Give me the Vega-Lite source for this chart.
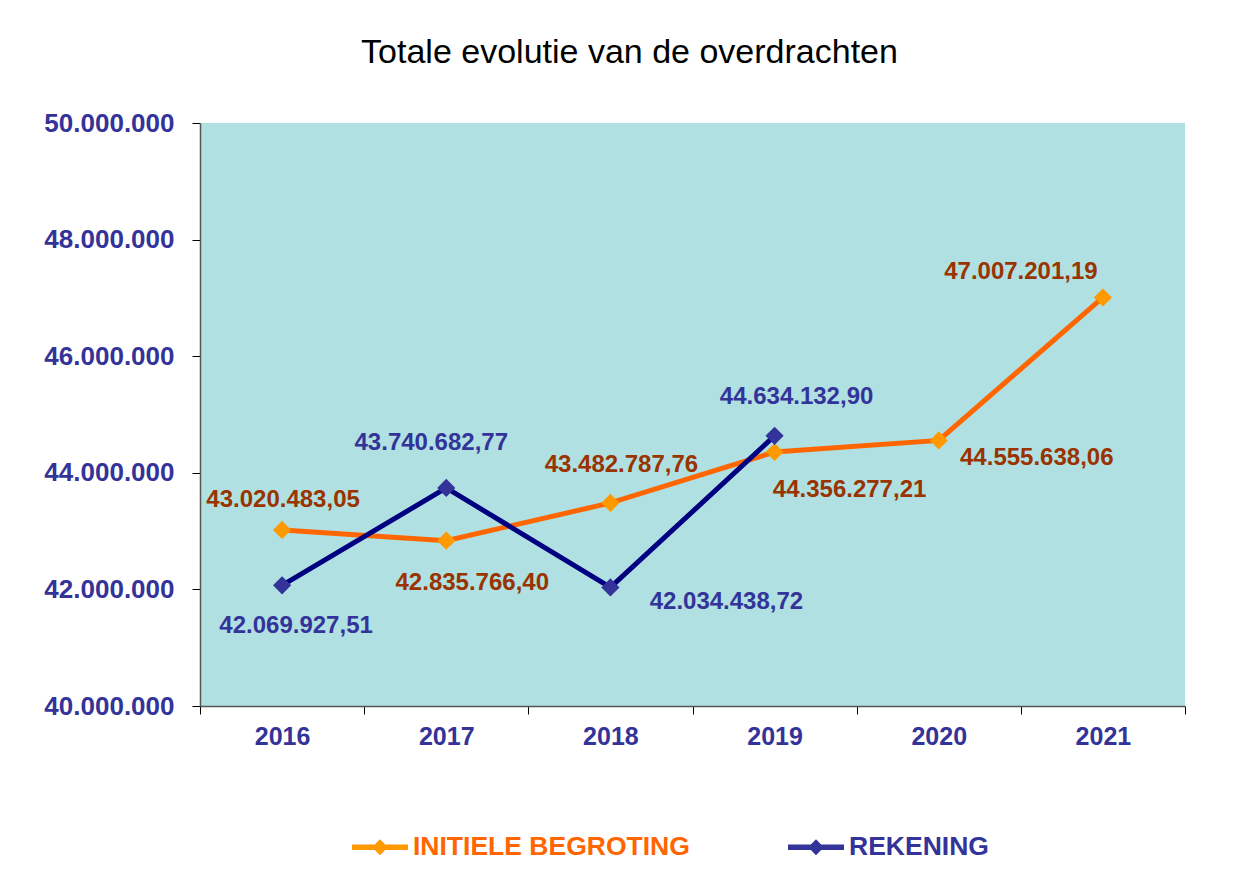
{
  "$schema": "https://vega.github.io/schema/vega-lite/v6.json",
  "width": 985,
  "height": 583,
  "autosize": {"type": "none"},
  "padding": {"left": 200, "top": 123, "right": 54, "bottom": 181},
  "background": "white",
  "title": {
    "text": "Totale evolutie van de overdrachten",
    "font": "Liberation Sans",
    "fontSize": 34,
    "fontWeight": "normal",
    "color": "#000000",
    "anchor": "middle",
    "baseline": "alphabetic",
    "offset": 13,
    "dx": -63
  },
  "config": {
    "locale": {"number": {"decimal": ",", "thousands": ".", "grouping": [3], "currency": ["€", ""]}},
    "view": {"fill": "#B0E0E1", "stroke": null},
    "font": "Liberation Sans"
  },
  "data": {
    "values": [
      {"year": "2016", "series": "INITIELE BEGROTING", "value": 43020483.05},
      {"year": "2017", "series": "INITIELE BEGROTING", "value": 42835766.40},
      {"year": "2018", "series": "INITIELE BEGROTING", "value": 43482787.76},
      {"year": "2019", "series": "INITIELE BEGROTING", "value": 44356277.21},
      {"year": "2020", "series": "INITIELE BEGROTING", "value": 44555638.06},
      {"year": "2021", "series": "INITIELE BEGROTING", "value": 47007201.19},
      {"year": "2016", "series": "REKENING", "value": 42069927.51},
      {"year": "2017", "series": "REKENING", "value": 43740682.77},
      {"year": "2018", "series": "REKENING", "value": 42034438.72},
      {"year": "2019", "series": "REKENING", "value": 44634132.90}
    ]
  },
  "encoding": {
    "x": {
      "field": "year",
      "type": "ordinal",
      "scale": {"type": "band", "paddingInner": 0, "paddingOuter": 0, "domain": ["2016", "2017", "2018", "2019", "2020", "2021"]},
      "axis": {
        "title": null,
        "labelAngle": 0,
        "tickBand": "extent",
        "tickSize": 8,
        "tickColor": "#000000",
        "domainColor": "#555555",
        "domainWidth": 1.5,
        "labelPadding": 10,
        "labelFont": "Liberation Sans",
        "labelFontSize": 25,
        "labelFontWeight": "bold",
        "labelColor": "#333399",
        "grid": false
      }
    },
    "y": {
      "field": "value",
      "type": "quantitative",
      "scale": {"domain": [40000000, 50000000], "nice": false, "zero": false},
      "axis": {
        "title": null,
        "values": [40000000, 42000000, 44000000, 46000000, 48000000, 50000000],
        "format": ",.0f",
        "tickSize": 8,
        "tickColor": "#000000",
        "domainColor": "#555555",
        "domainWidth": 1.5,
        "labelPadding": 18,
        "labelFont": "Liberation Sans",
        "labelFontSize": 26,
        "labelFontWeight": "bold",
        "labelColor": "#333399",
        "grid": false
      }
    }
  },
  "layer": [
    {
      "mark": {"type": "line", "strokeWidth": 5},
      "encoding": {
        "color": {
          "field": "series",
          "type": "nominal",
          "scale": {"domain": ["INITIELE BEGROTING", "REKENING"], "range": ["#FF6600", "#000080"]},
          "legend": null
        }
      }
    },
    {
      "mark": {"type": "point", "shape": "diamond", "size": 330, "filled": true, "opacity": 1},
      "encoding": {
        "color": {
          "field": "series",
          "type": "nominal",
          "scale": {"domain": ["INITIELE BEGROTING", "REKENING"], "range": ["#FF9900", "#333399"]},
          "legend": {
            "title": null,
            "orient": "none",
            "legendX": 152,
            "legendY": 696,
            "direction": "horizontal",
            "padding": 0,
            "columnPadding": 98,
            "labelOffset": 5,
            "symbolType": "M-1,-0.1L1,-0.1L1,0.1L-1,0.1Z M-0.28,0L0,-0.29L0.28,0L0,0.29Z",
            "symbolSize": 3136,
            "symbolStrokeWidth": 0,
            "symbolOpacity": 1,
            "labelFont": "Liberation Sans",
            "labelFontSize": 26.5,
            "labelFontWeight": "bold",
            "labelColor": "#FF6600",
            "labelLimit": 400,
            "encoding": {
              "labels": {
                "fill": {"condition": {"test": "datum.value === 'REKENING'", "value": "#333399"}, "value": "#FF6600"}
              }
            }
          }
        }
      }
    },
    {
      "transform": [{"filter": "datum.series === 'INITIELE BEGROTING' && datum.year === '2016'"}],
      "mark": {"type": "text", "dx": 1, "dy": -30, "fontSize": 24, "fontWeight": "bold", "font": "Liberation Sans", "color": "#993300", "baseline": "middle", "align": "center"},
      "encoding": {"text": {"field": "value", "type": "quantitative", "format": ",.2f"}}
    },
    {
      "transform": [{"filter": "datum.series === 'INITIELE BEGROTING' && datum.year === '2017'"}],
      "mark": {"type": "text", "dx": 26, "dy": 42, "fontSize": 24, "fontWeight": "bold", "font": "Liberation Sans", "color": "#993300", "baseline": "middle", "align": "center"},
      "encoding": {"text": {"field": "value", "type": "quantitative", "format": ",.2f"}}
    },
    {
      "transform": [{"filter": "datum.series === 'INITIELE BEGROTING' && datum.year === '2018'"}],
      "mark": {"type": "text", "dx": 11, "dy": -38, "fontSize": 24, "fontWeight": "bold", "font": "Liberation Sans", "color": "#993300", "baseline": "middle", "align": "center"},
      "encoding": {"text": {"field": "value", "type": "quantitative", "format": ",.2f"}}
    },
    {
      "transform": [{"filter": "datum.series === 'INITIELE BEGROTING' && datum.year === '2019'"}],
      "mark": {"type": "text", "dx": 75, "dy": 38, "fontSize": 24, "fontWeight": "bold", "font": "Liberation Sans", "color": "#993300", "baseline": "middle", "align": "center"},
      "encoding": {"text": {"field": "value", "type": "quantitative", "format": ",.2f"}}
    },
    {
      "transform": [{"filter": "datum.series === 'INITIELE BEGROTING' && datum.year === '2020'"}],
      "mark": {"type": "text", "dx": 98, "dy": 18, "fontSize": 24, "fontWeight": "bold", "font": "Liberation Sans", "color": "#993300", "baseline": "middle", "align": "center"},
      "encoding": {"text": {"field": "value", "type": "quantitative", "format": ",.2f"}}
    },
    {
      "transform": [{"filter": "datum.series === 'INITIELE BEGROTING' && datum.year === '2021'"}],
      "mark": {"type": "text", "dx": -82, "dy": -25, "fontSize": 24, "fontWeight": "bold", "font": "Liberation Sans", "color": "#993300", "baseline": "middle", "align": "center"},
      "encoding": {"text": {"field": "value", "type": "quantitative", "format": ",.2f"}}
    },
    {
      "transform": [{"filter": "datum.series === 'REKENING' && datum.year === '2016'"}],
      "mark": {"type": "text", "dx": 14, "dy": 41, "fontSize": 24, "fontWeight": "bold", "font": "Liberation Sans", "color": "#333399", "baseline": "middle", "align": "center"},
      "encoding": {"text": {"field": "value", "type": "quantitative", "format": ",.2f"}}
    },
    {
      "transform": [{"filter": "datum.series === 'REKENING' && datum.year === '2017'"}],
      "mark": {"type": "text", "dx": -15, "dy": -45, "fontSize": 24, "fontWeight": "bold", "font": "Liberation Sans", "color": "#333399", "baseline": "middle", "align": "center"},
      "encoding": {"text": {"field": "value", "type": "quantitative", "format": ",.2f"}}
    },
    {
      "transform": [{"filter": "datum.series === 'REKENING' && datum.year === '2018'"}],
      "mark": {"type": "text", "dx": 116, "dy": 15, "fontSize": 24, "fontWeight": "bold", "font": "Liberation Sans", "color": "#333399", "baseline": "middle", "align": "center"},
      "encoding": {"text": {"field": "value", "type": "quantitative", "format": ",.2f"}}
    },
    {
      "transform": [{"filter": "datum.series === 'REKENING' && datum.year === '2019'"}],
      "mark": {"type": "text", "dx": 22, "dy": -39, "fontSize": 24, "fontWeight": "bold", "font": "Liberation Sans", "color": "#333399", "baseline": "middle", "align": "center"},
      "encoding": {"text": {"field": "value", "type": "quantitative", "format": ",.2f"}}
    }
  ],
  "resolve": {"scale": {"color": "independent"}}
}
